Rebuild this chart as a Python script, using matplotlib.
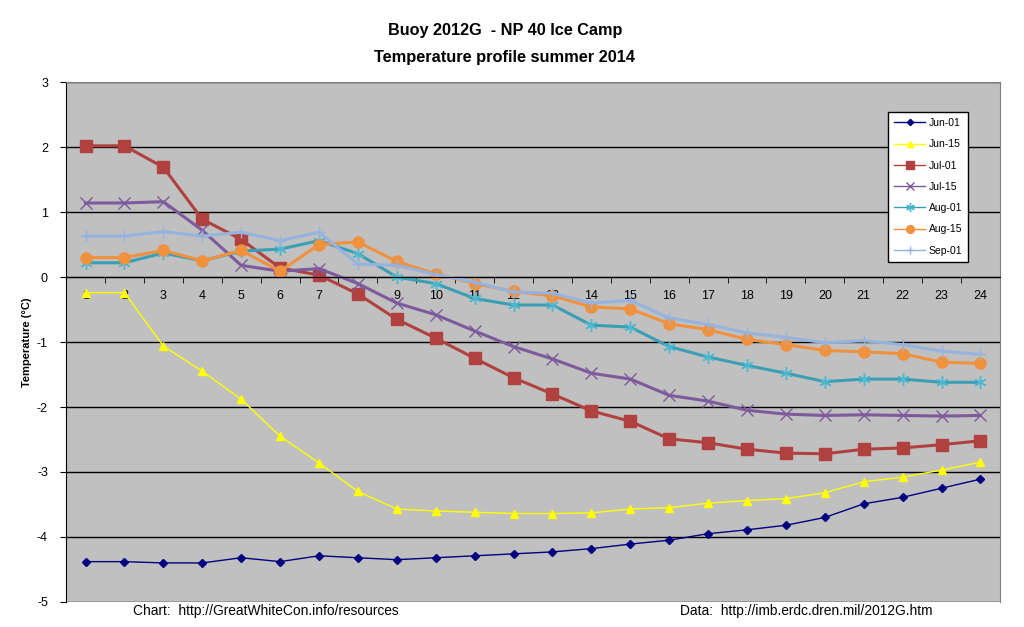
import matplotlib
matplotlib.use('Agg')
import matplotlib.pyplot as plt
import numpy as np

plt.rcParams['font.family'] = ['Liberation Sans', 'DejaVu Sans']
plt.rcParams['axes.unicode_minus'] = False

depth = list(range(1, 25))

jun_01 = [-4.38, -4.38, -4.40, -4.40, -4.32, -4.38, -4.29, -4.32, -4.35, -4.32, -4.29, -4.26,
          -4.23, -4.18, -4.11, -4.05, -3.95, -3.89, -3.82, -3.70, -3.49, -3.39, -3.25, -3.11]
jun_15 = [-0.24, -0.24, -1.06, -1.45, -1.88, -2.45, -2.86, -3.30, -3.57, -3.60, -3.62, -3.64,
          -3.64, -3.63, -3.57, -3.55, -3.48, -3.44, -3.41, -3.32, -3.15, -3.08, -2.97, -2.85]
jul_01 = [2.02, 2.02, 1.69, 0.89, 0.58, 0.14, 0.03, -0.26, -0.65, -0.94, -1.25, -1.55,
          -1.80, -2.06, -2.22, -2.49, -2.55, -2.65, -2.71, -2.72, -2.65, -2.63, -2.58, -2.52]
jul_15 = [1.14, 1.14, 1.16, 0.72, 0.18, 0.09, 0.13, -0.10, -0.40, -0.58, -0.83, -1.07,
          -1.26, -1.48, -1.57, -1.82, -1.91, -2.05, -2.11, -2.13, -2.12, -2.13, -2.14, -2.13]
aug_01 = [0.22, 0.22, 0.37, 0.25, 0.40, 0.43, 0.56, 0.36, 0.00, -0.10, -0.33, -0.43,
          -0.43, -0.74, -0.77, -1.07, -1.23, -1.36, -1.48, -1.61, -1.57, -1.57, -1.62, -1.62]
aug_15 = [0.30, 0.30, 0.41, 0.25, 0.41, 0.09, 0.50, 0.54, 0.24, 0.05, -0.10, -0.22,
          -0.29, -0.46, -0.49, -0.72, -0.81, -0.96, -1.04, -1.13, -1.15, -1.18, -1.31, -1.33]
sep_01 = [0.63, 0.63, 0.70, 0.63, 0.69, 0.56, 0.69, 0.20, 0.18, 0.04, -0.08, -0.23,
          -0.25, -0.40, -0.36, -0.63, -0.73, -0.86, -0.93, -1.01, -0.98, -1.04, -1.14, -1.19]

fig = plt.figure(figsize=(10.24, 6.27), dpi=100)
ax = fig.add_axes([0.0645, 0.040, 0.912, 0.829])
ax.set_facecolor('#C0C0C0')

ax.plot(depth, jun_01, color='#000080', lw=1, marker='D', ms=4.5, label='Jun-01')
ax.plot(depth, jun_15, color='#FFFF00', lw=1, marker='^', ms=6, label='Jun-15')
ax.plot(depth, jul_01, color='#B0413E', lw=2.2, marker='s', ms=8, label='Jul-01')
ax.plot(depth, jul_15, color='#7D5A9C', lw=2.2, marker='x', ms=8, mew=1, label='Jul-15')
ax.plot(depth, aug_01, color='#3A9FB4', lw=2.2, marker=(6, 2, 0), ms=9, mew=1,
        mec='#4BB8D0', label='Aug-01')
ax.plot(depth, aug_15, color='#F0913E', lw=2.2, marker='o', ms=8, label='Aug-15')
ax.plot(depth, sep_01, color='#95B3DE', lw=2.2, marker='+', ms=9, mew=1, label='Sep-01')

ax.set_xlim(0.5, 24.5)
ax.set_ylim(-5, 3)
ax.set_yticks(range(-5, 4))
ax.yaxis.grid(True, color='black', lw=1)
ax.set_axisbelow(True)

ax.spines['bottom'].set_position(('data', 0))
ax.spines['bottom'].set_color('black')
ax.spines['left'].set_color('black')
ax.spines['top'].set_color('#808080')
ax.spines['right'].set_color('#808080')
ax.set_xticks(depth)
ax.set_xticks(np.arange(1.5, 24.5, 1), minor=True)
ax.tick_params(axis='x', which='major', length=0, labelsize=9, pad=9)
ax.tick_params(axis='x', which='minor', length=4, direction='out')
ax.tick_params(axis='y', length=4, labelsize=9, pad=9)

ax.set_ylabel('Temperature (°C)', fontsize=8, fontweight='bold')
ax.yaxis.set_label_coords(-0.036, 0.5)

fig.text(0.493, 0.952, 'Buoy 2012G  - NP 40 Ice Camp', ha='center', va='center',
         fontsize=11.7, fontweight='bold')
fig.text(0.493, 0.909, 'Temperature profile summer 2014', ha='center', va='center',
         fontsize=11.8, fontweight='bold')
fig.text(0.130, 0.025, 'Chart:  http://GreatWhiteCon.info/resources', ha='left',
         va='center', fontsize=9.9)
fig.text(0.664, 0.025, 'Data:  http://imb.erdc.dren.mil/2012G.htm', ha='left',
         va='center', fontsize=9.9)

leg = ax.legend(loc='upper left', bbox_to_anchor=(0.8745, 0.953), fontsize=7.5,
                frameon=True, fancybox=False, framealpha=1, edgecolor='black',
                handlelength=3.0, labelspacing=1.08, borderpad=0.6, handletextpad=0.3)
leg.get_frame().set_linewidth(1)
for h in leg.legend_handles:
    h.set_linewidth(1)
    h.set_markersize(h.get_markersize() * 0.7)

fig.savefig('out.png', dpi=100)
